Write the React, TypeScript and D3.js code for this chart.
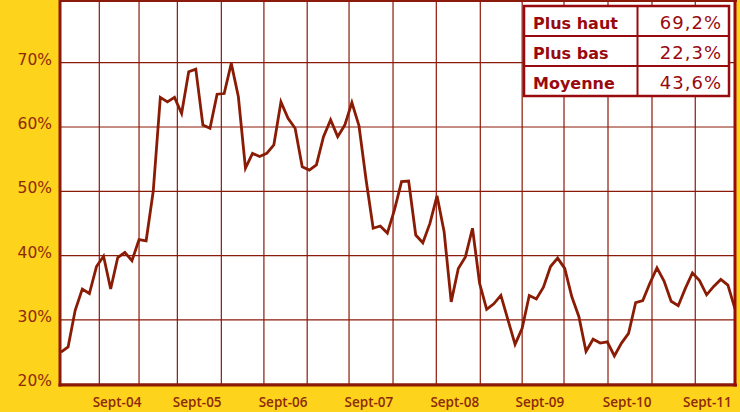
import React from "react";
import * as d3 from "d3";

const values = [
  25.0, 25.8, 31.5, 34.8, 34.1, 38.3, 39.9, 34.8, 39.7, 40.5, 39.2, 42.5,
  42.3, 50.0, 64.6, 63.9, 64.6, 62.1, 68.6, 69.0, 60.3, 59.8, 65.1, 65.2,
  69.9, 64.7, 53.6, 55.9, 55.4, 55.9, 57.2, 63.9, 61.35, 59.8, 53.8, 53.3,
  54.1, 58.5, 61.1, 58.5, 60.3, 63.8, 60.2, 51.8, 44.25, 44.6, 43.5, 47.1,
  51.5, 51.6, 43.2, 42.0, 45.0, 49.3, 43.7, 32.8, 38.0, 39.8, 44.25, 35.7,
  31.65, 32.5, 33.8, 30.0, 26.2, 28.7, 33.8, 33.25, 35.1, 38.3, 39.6, 38.0,
  33.6, 30.5, 25.1, 27.0, 26.4, 26.6, 24.4, 26.4, 27.9, 32.7, 33.0, 35.7,
  38.1, 36.05, 32.9, 32.2, 34.9, 37.3, 36.1, 33.9, 35.2, 36.3, 35.4, 31.7,
];

const yTicks = [20, 30, 40, 50, 60, 70];
const xLabels = ["Sept-04", "Sept-05", "Sept-06", "Sept-07", "Sept-08", "Sept-09", "Sept-10", "Sept-11"];
const xLabelPos = [7.9, 19.2, 31.3, 43.4, 55.5, 67.5, 79.8, 91.1];
const gridPos = [5.4, 11.0, 16.4, 22.6, 28.6, 34.7, 40.6, 46.8, 52.9, 59.1, 65.0, 70.9, 77.1, 83.3, 89.4];
const statLabels = ["Plus haut", "Plus bas", "Moyenne"];
const statValues = ["69,2%", "22,3%", "43,6%"];

const W = 740;
const H = 412;
const YELLOW = "#FDD31B";
const DARK = "#8B1A0A";
const LINE = "#8A1C05";
const LABEL = "#8C2A0A";
const TABLE = "#990A0F";

export default function App() {
  const x = d3.scaleLinear().domain([0, values.length - 1]).range([61, 735]);
  const y = d3.scaleLinear().domain([20, 80]).range([384.2, -1.6]);
  const line = d3
    .line<number>()
    .x((_, i) => x(i))
    .y((d) => y(d));

  const tbl = { x0: 524, x1: 729, y0: 6, rowH: 30, div: 637.5 };

  return (
    <svg
      width={W}
      height={H}
      style={{ position: "absolute", left: 0, top: 0, display: "block" }}
    >
      <defs>
        <clipPath id="plotclip">
          <rect x={60} y={0} width={676} height={386} />
        </clipPath>
      </defs>
      <rect x={0} y={0} width={W} height={H} fill={YELLOW} />
      <rect x={60} y={0} width={676} height={384.5} fill="#ffffff" />

      {yTicks.map((t) => (
        <line
          key={"h" + t}
          x1={60}
          x2={736}
          y1={y(t)}
          y2={y(t)}
          stroke={DARK}
          strokeWidth={1.2}
        />
      ))}
      {gridPos.map((g, i) => (
        <line
          key={"v" + i}
          x1={x(g)}
          x2={x(g)}
          y1={0}
          y2={385}
          stroke={DARK}
          strokeWidth={1.2}
        />
      ))}

      <g clipPath="url(#plotclip)">
        <path
          d={line(values) || ""}
          fill="none"
          stroke={LINE}
          strokeWidth={2.8}
          strokeLinejoin="miter"
        />
      </g>

      {/* borders */}
      <line x1={60} x2={737} y1={1} y2={1} stroke={DARK} strokeWidth={2} />
      <line x1={60} x2={60} y1={0} y2={386.5} stroke={DARK} strokeWidth={3} />
      <line x1={58.5} x2={737} y1={385} y2={385} stroke={DARK} strokeWidth={3} />
      <line x1={735} x2={735} y1={0} y2={386.5} stroke="#9A0A08" strokeWidth={3} />

      {/* y labels */}
      {yTicks.map((t) => (
        <text
          key={"yl" + t}
          x={52}
          y={y(t) + 2}
          textAnchor="end"
          fontFamily="DejaVu Sans"
          fontSize={15.5}
          fill={LABEL}
        >
          {t}%
        </text>
      ))}

      {/* x labels */}
      {xLabels.map((l, i) => (
        <text
          key={l}
          x={x(xLabelPos[i])}
          y={406.5}
          textAnchor="middle"
          fontFamily="Open Sans"
          fontWeight={600}
          fontSize={13.5}
          fill={LABEL}
        >
          {l}
        </text>
      ))}

      {/* stats table */}
      <rect
        x={tbl.x0}
        y={tbl.y0}
        width={tbl.x1 - tbl.x0}
        height={tbl.rowH * statLabels.length}
        fill="#ffffff"
        stroke={TABLE}
        strokeWidth={2.5}
      />
      <line
        x1={tbl.div}
        x2={tbl.div}
        y1={tbl.y0}
        y2={tbl.y0 + tbl.rowH * statLabels.length}
        stroke={TABLE}
        strokeWidth={2}
      />
      {statLabels.slice(1).map((_, i) => (
        <line
          key={"rl" + i}
          x1={tbl.x0}
          x2={tbl.x1}
          y1={tbl.y0 + tbl.rowH * (i + 1)}
          y2={tbl.y0 + tbl.rowH * (i + 1)}
          stroke={TABLE}
          strokeWidth={2}
        />
      ))}
      {statLabels.map((l, i) => (
        <text
          key={"sl" + i}
          x={533}
          y={tbl.y0 + tbl.rowH * i + 22.5}
          fontFamily="DejaVu Sans"
          fontWeight="bold"
          fontSize={16}
          fill={TABLE}
        >
          {l}
        </text>
      ))}
      {statValues.map((v, i) => (
        <text
          key={"sv" + i}
          x={722}
          y={tbl.y0 + tbl.rowH * i + 22.5}
          textAnchor="end"
          fontFamily="DejaVu Sans"
          fontSize={18}
          letterSpacing={1}
          fill={TABLE}
        >
          {v}
        </text>
      ))}
    </svg>
  );
}
